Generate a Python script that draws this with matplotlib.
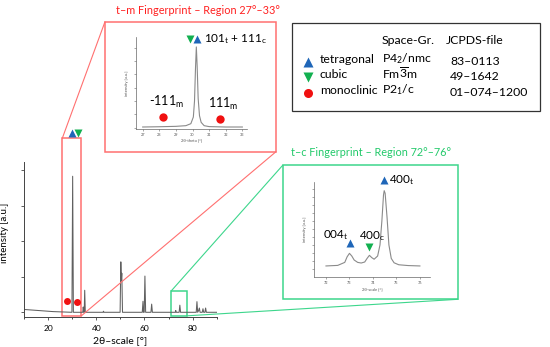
#!/usr/bin/env python3
"""XRD pattern with t-m and t-c fingerprint insets."""

import matplotlib

matplotlib.use("Agg")
import matplotlib.pyplot as plt  # noqa: E402
from matplotlib.patches import ConnectionPatch, Rectangle  # noqa: E402

plt.rcParams["font.family"] = ["Lato", "DejaVu Sans"]
plt.rcParams["mathtext.default"] = "regular"

W, H = 550, 347

# full pattern (intensity in tick units)
MAIN_2THETA = [10, 14, 18, 22, 26, 29.9, 30.2, 30.5, 34.4, 34.6, 34.8, 35.0,
               35.2, 35.45, 42.8, 43.0, 43.2, 49.9, 50.2, 50.4, 50.6, 50.9,
               59.1, 59.4, 59.6, 59.9, 60.2, 60.5, 62.7, 63.0, 63.3, 72.8,
               73.0, 73.2, 74.4, 74.7, 75.0, 81.5, 81.8, 82.1, 82.5, 82.8,
               83.1, 84.0, 84.3, 84.6, 85.1, 85.4, 85.7, 90]
MAIN_INT = [0.08, 0.06, 0.04, 0.02, 0.01, 0.0, 3.83, 0.0, 0.0, 0.15, 0.0, 0.0,
            0.62, 0.0, 0.0, 0.03, 0.0, 0.0, 1.42, 0.9, 1.1, 0.0,
            0.0, 0.31, 0.0, 0.0, 1.02, 0.0, 0.0, 0.23, 0.0, 0.0,
            0.05, 0.0, 0.0, 0.2, 0.0, 0.0, 0.3, 0.0, 0.05, 0.12,
            0.0, 0.0, 0.1, 0.0, 0.0, 0.12, 0.0, 0.0]
MAIN_XTICKS = [20, 40, 60, 80]
MAIN_MONO_X = [28.0, 32.1]
MAIN_MONO_Y = [0.31, 0.28]

# t-m fingerprint 27-33
TM_2THETA = [27.0, 28.0, 29.0, 29.6, 29.9, 30.05, 30.12, 30.18, 30.23, 30.28,
             30.34, 30.42, 30.52, 30.7, 31.0, 32.0, 33.0]
TM_INT = [0.05, 0.07, 0.1, 0.15, 0.3, 0.8, 2.0, 4.5, 6.07, 4.6,
          2.2, 0.9, 0.4, 0.15, 0.08, 0.05, 0.05]
TM_XTICKS = [27, 28, 29, 30, 31, 32, 33]
TM_MONO = [(28.24, 0.78, "-111$_{m}$"), (31.66, 0.63, "111$_{m}$")]
TM_PEAK = (29.85, 30.29, 6.67)

# t-c fingerprint 72-76
TC_2THETA = [72.0, 72.5, 72.8, 72.9, 73.0, 73.1, 73.2, 73.35, 73.5, 73.65,
             73.75, 73.85, 73.95, 74.05, 74.2, 74.3, 74.38, 74.45, 74.48, 74.52,
             74.6, 74.68, 74.78, 74.9, 75.1, 75.5, 76.0]
TC_INT = [0.35, 0.42, 0.8, 1.5, 1.94, 1.6, 1.1, 0.8, 0.72, 0.85,
          1.3, 1.69, 1.4, 1.2, 1.6, 3.0, 6.0, 9.3, 9.84, 9.5,
          6.5, 3.0, 1.3, 0.75, 0.5, 0.4, 0.35]
TC_XTICKS = [72, 73, 74, 75, 76]
TC_TETRA = [(73.03, 3.27), (74.45, 11.2)]
TC_CUBIC = [(73.84, 2.7)]

PHASES = ["tetragonal", "cubic", "monoclinic"]
SPACE_GROUPS = ["P4$_{2}$/nmc", r"Fm$\overline{3}$m", "P2$_{1}$/c"]
JCPDS = ["83–0113", "49–1642", "01–074–1200"]

BLUE = "#1f66b8"
GREEN = "#12b050"
RED = "#f01010"
RED_BOX = "#ff7070"
GREEN_BOX = "#3dd68c"
CURVE = "#606060"
INSET_CURVE = "#8a8a8a"

PHASE_MARKERS = {"tetragonal": ("^", BLUE), "cubic": ("v", GREEN),
                 "monoclinic": ("o", RED)}


def px_rect(x0, y0, x1, y1):
    return [x0 / W, 1 - y1 / H, (x1 - x0) / W, (y1 - y0) / H]


fig = plt.figure(figsize=(W / 100, H / 100), dpi=100)

# overlay in pixel coordinates for frames and texts
over = fig.add_axes([0, 0, 1, 1])
over.set_xlim(0, W)
over.set_ylim(H, 0)
over.axis("off")

# main pattern
ax = fig.add_axes(px_rect(24, 161.7, 216.7, 316.7))
ax.plot(MAIN_2THETA, MAIN_INT, color=CURVE, lw=0.75)
ax.set_xlim(10, 90)
ax.set_ylim(-0.124, 4.24)
ax.set_xticks(MAIN_XTICKS)
ax.set_xticks(range(10, 91, 10), minor=True)
ax.set_yticks(range(5))
ax.set_yticklabels([])
for s in ("top", "right"):
    ax.spines[s].set_visible(False)
for s in ("left", "bottom"):
    ax.spines[s].set_linewidth(0.7)
    ax.spines[s].set_color("#444444")
ax.tick_params(labelsize=6, length=2.5, width=0.6, colors="#444444", labelcolor="black")
ax.tick_params(which="minor", length=1.5, width=0.5)
ax.set_xlabel("2θ–scale [°]", fontsize=7.5, labelpad=3)
ax.set_ylabel("intensity [a.u.]", fontsize=7, labelpad=4)
ax.yaxis.set_label_coords(-0.078, 0.54)
ax.plot(MAIN_MONO_X, MAIN_MONO_Y, "o", color=RED, ms=5, mec="none", clip_on=False)
ax.plot([29.8], [5.05], "^", color=BLUE, ms=5.5, mec="none", clip_on=False)
ax.plot([32.4], [5.05], "v", color=GREEN, ms=5.5, mec="none", clip_on=False)

red_zone = Rectangle((25.9, -0.1), 33.8 - 25.9, 5.0, fill=False, ec=RED_BOX,
                     lw=1.1, clip_on=False)
green_zone = Rectangle((71.1, -0.1), 77.5 - 71.1, 0.7, fill=False, ec=GREEN_BOX,
                       lw=1.1, clip_on=False)
ax.add_patch(red_zone)
ax.add_patch(green_zone)

# inset frames
over.add_patch(Rectangle((105, 21.7), 171, 130, fill=False, ec=RED_BOX, lw=1.1))
over.add_patch(Rectangle((282.7, 165.3), 175.3, 134, fill=False, ec=GREEN_BOX, lw=1.1))
over.add_patch(Rectangle((291.7, 23.3), 248.3, 87.7, fill=False, ec="#333333", lw=0.9))

for xa, xb, col in [((25.9, 4.9), (105, 21.7), RED_BOX),
                    ((33.8, -0.1), (276, 151.7), RED_BOX),
                    ((71.1, 0.6), (282.7, 165.3), GREEN_BOX),
                    ((77.5, -0.1), (458, 299.3), GREEN_BOX)]:
    con = ConnectionPatch(xyA=xa, coordsA=ax.transData, xyB=xb,
                          coordsB=over.transData, color=col, lw=0.8)
    fig.add_artist(con)

over.text(198, 10, "t–m Fingerprint – Region 27°–33°", color="#ff2020",
          fontsize=7.8, ha="center", va="center")
over.text(371, 152, "t–c Fingerprint – Region 72°–76°", color="#22c96a",
          fontsize=7.8, ha="center", va="center")


def style_inset(iax):
    for s in ("top", "right"):
        iax.spines[s].set_visible(False)
    for s in ("left", "bottom"):
        iax.spines[s].set_linewidth(0.5)
        iax.spines[s].set_color("#666666")
    iax.tick_params(labelsize=2.8, length=1.2, width=0.4, pad=1.5,
                    colors="#666666", labelcolor="#555555")
    iax.set_yticklabels([])


# t-m inset
tm = fig.add_axes(px_rect(135.7, 36.7, 247, 129))
tm.plot(TM_2THETA, TM_INT, color=INSET_CURVE, lw=0.8)
tm.set_xlim(26.58, 33.28)
tm.set_ylim(-0.1, 6.84)
tm.set_xticks(TM_XTICKS)
tm.set_yticks(range(7))
style_inset(tm)
tm.set_xlabel("2θ-theta [°]", fontsize=3, labelpad=1.5, color="#555555")
tm.set_ylabel("intensity [a.u.]", fontsize=3, labelpad=2, color="#555555")
for x, y, lab in TM_MONO:
    tm.plot([x], [y], "o", color=RED, ms=6, mec="none", clip_on=False)
    tm.text(x + 0.2, y + 0.55, lab, fontsize=9, ha="center", va="bottom")
tm.plot([TM_PEAK[0]], [TM_PEAK[2]], "v", color=GREEN, ms=6, mec="none", clip_on=False)
tm.plot([TM_PEAK[1]], [TM_PEAK[2]], "^", color=BLUE, ms=6, mec="none", clip_on=False)
tm.text(30.7, TM_PEAK[2], "101$_{t}$ + 111$_{c}$", fontsize=8.5,
        ha="left", va="center")

# t-c inset
tc = fig.add_axes(px_rect(314, 181.7, 430, 277.3))
tc.plot(TC_2THETA, TC_INT, color=INSET_CURVE, lw=0.8)
tc.set_xlim(71.49, 76.43)
tc.set_ylim(-1.08, 10.97)
tc.set_xticks(TC_XTICKS)
tc.set_yticks(range(11))
style_inset(tc)
tc.set_xlabel("2θ-scale [°]", fontsize=3, labelpad=1.5, color="#555555")
tc.set_ylabel("intensity [a.u.]", fontsize=3, labelpad=2, color="#555555")
for x, y in TC_TETRA:
    tc.plot([x], [y], "^", color=BLUE, ms=6, mec="none", clip_on=False)
for x, y in TC_CUBIC:
    tc.plot([x], [y], "v", color=GREEN, ms=6, mec="none", clip_on=False)
tc.text(72.4, 4.3, "004$_{t}$", fontsize=8.5, ha="center", va="center")
tc.text(73.95, 4.1, "400$_{c}$", fontsize=8.5, ha="center", va="center")
tc.text(74.7, 11.2, "400$_{t}$", fontsize=8.5, ha="left", va="center")

# phase table
over.text(381.7, 40, "Space-Gr.", fontsize=8.8, ha="left", va="center")
over.text(445.7, 40, "JCPDS-file", fontsize=8.8, ha="left", va="center")
row_y = [60.5, 75.5, 91.5]
for phase, sg, card, y in zip(PHASES, SPACE_GROUPS, JCPDS, row_y):
    mk, col = PHASE_MARKERS[phase]
    over.plot([308], [y + 1], mk, color=col, ms=6.5, mec="none")
    over.text(320, y - 1, phase, fontsize=8.8, ha="left", va="center")
    over.text(382, y - 2, sg, fontsize=8.8, ha="left", va="center")
    over.text(450, y + 1, card, fontsize=8.8, ha="left", va="center")

fig.savefig("out.png", dpi=100)
